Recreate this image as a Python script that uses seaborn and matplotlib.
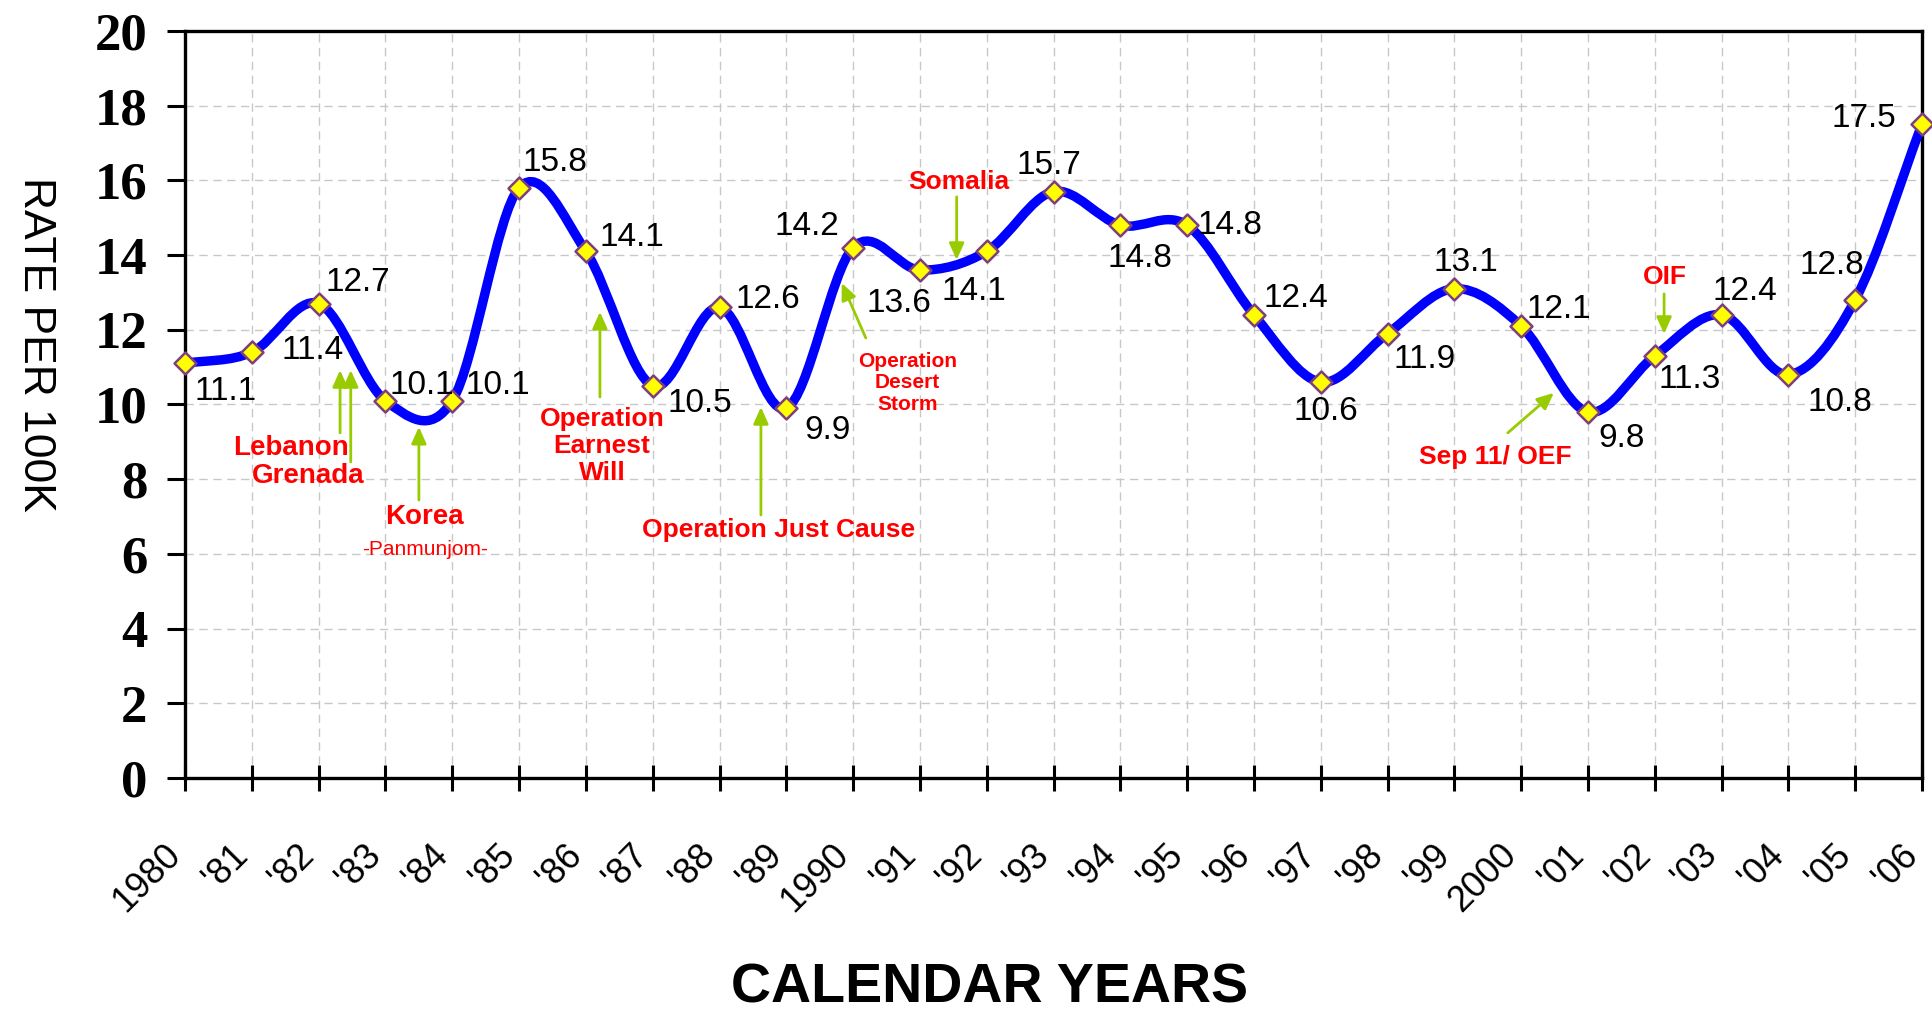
import numpy as np
import pandas as pd
import seaborn as sns
import matplotlib.pyplot as plt
import matplotlib.transforms as mtransforms
from matplotlib.path import Path
from matplotlib.patches import PathPatch

# --- data ---
years = list(range(1980, 2007))
year_labels = ["1980", "'81", "'82", "'83", "'84", "'85", "'86", "'87", "'88", "'89",
               "1990", "'91", "'92", "'93", "'94", "'95", "'96", "'97", "'98", "'99",
               "2000", "'01", "'02", "'03", "'04", "'05", "'06"]
rate = [11.1, 11.4, 12.7, 10.1, 10.1, 15.8, 14.1, 10.5, 12.6, 9.9,
        14.2, 13.6, 14.1, 15.7, 14.8, 14.8, 12.4, 10.6, 11.9, 13.1,
        12.1, 9.8, 11.3, 12.4, 10.8, 12.8, 17.5]
y_ticks = [0, 2, 4, 6, 8, 10, 12, 14, 16, 18, 20]

# value label offsets from each point (points, x right / y up)
label_offsets = [(29, -18), (44, 3), (28, 17), (26, 13), (33, 13), (26, 20), (33, 12),
                 (34, -11), (35, 8), (30, -14), (-33, 17), (-15, -22), (-9, -27),
                 (-3, 21), (14, -22), (31, 2), (30, 14), (4, -19), (27, -17), (8, 21),
                 (27, 14), (24, -17), (25, -15), (17, 19), (37, -18), (-17, 27), (-42, 6)]

# event notes: text, x index, y value, size, weight
notes = [
    ("Lebanon", 1.59, 8.84, 20, "bold"),
    ("Grenada", 1.84, 8.09, 20, "bold"),
    ("Korea", 3.59, 6.99, 20, "bold"),
    ("-Panmunjom-", 3.59, 6.13, 15, "normal"),
    ("Operation\nEarnest\nWill", 6.24, 8.89, 19, "bold"),
    ("Operation Just Cause", 8.88, 6.64, 19, "bold"),
    ("Operation\nDesert\nStorm", 10.81, 10.58, 15, "bold"),
    ("Somalia", 11.58, 15.96, 19, "bold"),
    ("Sep 11/ OEF", 19.61, 8.59, 19, "bold"),
    ("OIF", 22.15, 13.41, 19, "bold"),
]
# arrows: (tail x, tail y) -> (tip x, tip y)
arrows = [
    ((2.32, 9.24), (2.32, 10.92)),
    ((2.48, 8.46), (2.48, 10.92)),
    ((3.50, 7.44), (3.50, 9.40)),
    ((6.21, 10.2), (6.21, 12.48)),
    ((8.62, 7.04), (8.62, 9.93)),
    ((10.19, 11.78), (9.83, 13.25)),
    ((11.55, 15.56), (11.55, 13.87)),
    ((19.80, 9.24), (20.49, 10.31)),
    ((22.14, 12.96), (22.14, 11.89)),
]

df = pd.DataFrame({"idx": np.arange(len(years)), "rate": rate})

sns.set_style("whitegrid")
plt.rcParams['font.family'] = ['Liberation Sans', 'DejaVu Sans']
plt.rcParams['text.color'] = 'black'

fig = plt.figure(figsize=(19.32, 10.16), dpi=100)
ax = fig.add_axes([0.0958, 0.2343, 0.8990, 0.7352])

# smoothed line (Excel-style) through the data points
pts = df[["idx", "rate"]].to_numpy(dtype=float)
tang = np.empty_like(pts)
tang[1:-1] = (pts[2:] - pts[:-2]) / 2
tang[0] = pts[1] - pts[0]
tang[-1] = pts[-1] - pts[-2]
verts = [pts[0]]
codes = [Path.MOVETO]
for i in range(len(pts) - 1):
    verts += [pts[i] + tang[i] / 3, pts[i + 1] - tang[i + 1] / 3, pts[i + 1]]
    codes += [Path.CURVE4] * 3
ax.add_patch(PathPatch(Path(verts, codes), facecolor="none", edgecolor="#0000FF",
                       lw=6.8, capstyle="round", joinstyle="round", zorder=3, clip_on=False))

sns.scatterplot(data=df, x="idx", y="rate", marker="D", s=125, color="#FFFF00",
                edgecolor="#7F3F7F", linewidth=1.8, zorder=4, clip_on=False, ax=ax)

# value labels
for i, v in enumerate(rate):
    dx, dy = label_offsets[i]
    ax.annotate(f"{v:.1f}", (i, v), xytext=(dx, dy - 2), textcoords="offset points",
                ha="center", va="center", fontsize=24, color="black", zorder=5)

# event notes
for txt, nx, ny, size, weight in notes:
    ax.text(nx, ny, txt, color="#FF0000", fontsize=size, fontweight=weight,
            ha="center", va="center", linespacing=1.15, zorder=5)
for tail, tip in arrows:
    ax.annotate("", xy=tip, xytext=tail,
                arrowprops=dict(arrowstyle="-|>,head_length=1.0,head_width=0.45",
                                color="#99CC00", lw=2, shrinkA=0, shrinkB=0), zorder=5)

ax.set_xlim(0, len(years) - 1)
ax.set_ylim(0, 20)
ax.grid(True, color="#C8C8C8", linestyle=(0, (6, 4)), linewidth=1.0)
ax.set_axisbelow(True)
for sp in ax.spines.values():
    sp.set_visible(True)
    sp.set_color("black")
    sp.set_linewidth(2.4)

ax.set_yticks(y_ticks, labels=[str(t) for t in y_ticks], fontfamily="Liberation Serif",
              fontweight="bold", fontsize=38)
ax.tick_params(axis="y", left=True, direction="out", length=13, width=2.2, pad=14,
               color="black", labelcolor="black")

ax.set_xticks(range(len(years)), labels=year_labels, fontsize=26, rotation=45,
              ha="right", va="top", rotation_mode="anchor")
ax.tick_params(axis="x", bottom=True, direction="inout", length=19.4, width=2.2, pad=33,
               color="black", labelcolor="black")
offset = mtransforms.ScaledTranslation(-22 / 100, 0, fig.dpi_scale_trans)
for lab in ax.get_xticklabels():
    lab.set_transform(lab.get_transform() + offset)

ax.set_ylabel("RATE PER 100K", fontsize=32, rotation=-90, ha="center", va="center",
              color="black")
ax.yaxis.set_label_coords(-0.0864, 0.581)
ax.set_xlabel("CALENDAR YEARS", fontsize=40, fontweight="bold", va="center", color="black")
ax.xaxis.set_label_coords(0.4634, -0.2825)

fig.savefig("out.png", dpi=100)
plt.close(fig)
